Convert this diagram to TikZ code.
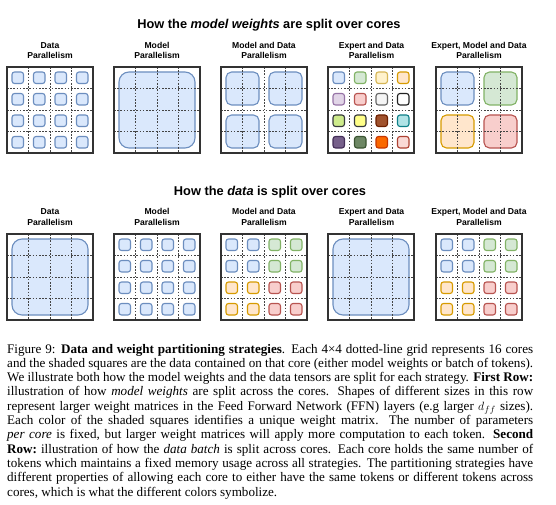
\documentclass[tikz,border=0pt]{standalone}
\usepackage{fontspec}
\setmainfont{Liberation Serif}
\newfontfamily\lsans{Liberation Sans}
\definecolor{bF}{HTML}{DAE8FC}\definecolor{bD}{HTML}{6C8EBF}
\definecolor{gF}{HTML}{D5E8D4}\definecolor{gD}{HTML}{82B366}
\definecolor{yF}{HTML}{FFF2CC}\definecolor{yD}{HTML}{D6B656}
\definecolor{oF}{HTML}{FFE6CC}\definecolor{oD}{HTML}{D79B00}
\definecolor{pF}{HTML}{E1D5E7}\definecolor{pD}{HTML}{9673A6}
\definecolor{rF}{HTML}{F8CECC}\definecolor{rD}{HTML}{B85450}
\definecolor{eF}{HTML}{F5F5F5}\definecolor{eD}{HTML}{666666}
\definecolor{wF}{HTML}{FFFFFF}\definecolor{wD}{HTML}{222222}
\definecolor{lF}{HTML}{CDEB8B}\definecolor{lD}{HTML}{36393D}
\definecolor{kF}{HTML}{FFFF88}\definecolor{kD}{HTML}{36393D}
\definecolor{nF}{HTML}{A0522D}\definecolor{nD}{HTML}{6D1F00}
\definecolor{tF}{HTML}{B0E3E6}\definecolor{tD}{HTML}{0E8088}
\definecolor{vF}{HTML}{76608A}\definecolor{vD}{HTML}{432D57}
\definecolor{dF}{HTML}{6D8764}\definecolor{dD}{HTML}{3A5431}
\definecolor{fF}{HTML}{FA6800}\definecolor{fD}{HTML}{C73500}
\definecolor{sF}{HTML}{FAD9D5}\definecolor{sD}{HTML}{AE4132}
\definecolor{gridc}{HTML}{444444}
\definecolor{framec}{HTML}{333333}
\tikzset{
  bl/.style={fill=bF,draw=bD}, gr/.style={fill=gF,draw=gD},
  ye/.style={fill=yF,draw=yD}, or/.style={fill=oF,draw=oD},
  pu/.style={fill=pF,draw=pD}, re/.style={fill=rF,draw=rD},
  ey/.style={fill=eF,draw=eD}, wh/.style={fill=wF,draw=wD},
  li/.style={fill=lF,draw=lD}, ky/.style={fill=kF,draw=kD},
  br/.style={fill=nF,draw=nD}, te/.style={fill=tF,draw=tD},
  vi/.style={fill=vF,draw=vD}, dg/.style={fill=dF,draw=dD},
  fo/.style={fill=fF,draw=fD}, sa/.style={fill=sF,draw=sD},
  gridline/.style={draw=gridc,line width=0.7pt,dash pattern=on 1.6pt off 1.6pt},
  gridframe/.style={draw=framec,line width=1.2pt},
  blkline/.style={line width=1.1pt},
  title/.style={font=\lsans\bfseries\fontsize{12.8}{15}\selectfont,anchor=base,inner sep=0pt},
  plabel/.style={font=\lsans\bfseries\fontsize{8.6}{10.6}\selectfont,align=center,inner sep=0pt},
  capline/.style={anchor=base west,inner sep=0pt,font=\fontsize{13.1}{14.3}\selectfont}
}
% block: gx, gy, col, row, span, style
\newcommand\myblk[6]{%
  \pgfmathsetmacro\myrad{ifthenelse(#5==1,2.5,ifthenelse(#5==2,5.5,10))}%
  \draw[blkline,#6,rounded corners=\myrad pt] ({#1+21.5*#3+5},{#2+21.5*#4+5}) rectangle ({#1+21.5*(#3+#5)-5},{#2+21.5*(#4+#5)-5});%
}
\newcommand\mygrid[2]{%
  \foreach \kk in {1,2,3}{%
    \draw[gridline] ({#1+21.5*\kk},#2) -- ({#1+21.5*\kk},{#2+86});%
    \draw[gridline] (#1,{#2+21.5*\kk}) -- ({#1+86},{#2+21.5*\kk});%
  }%
  \draw[gridframe] (#1,#2) rectangle ({#1+86},{#2+86});%
}
\newcommand\myquad[2]{%
  \foreach \cc/\rr/\ss in {0/0/bl,1/0/bl,0/1/bl,1/1/bl,2/0/gr,3/0/gr,2/1/gr,3/1/gr,0/2/or,1/2/or,0/3/or,1/3/or,2/2/re,3/2/re,2/3/re,3/3/re}{\myblk{#1}{#2}{\cc}{\rr}{1}{\ss}}%
}
\begin{document}
\begin{tikzpicture}[x=1pt,y=-1pt]
\useasboundingbox[fill=white] (0,0) rectangle (556,505);
% titles
\node[title] (t1) at (269,28.3) {How the \textit{model weights} are split over cores};
\node[title] (t2) at (270,195) {How the \textit{data} is split over cores};
% row 1 labels
\node[plabel] (a1) at (50,50.5) {Data\\Parallelism};
\node[plabel] (a2) at (157,50.5) {Model\\Parallelism};
\node[plabel] (a3) at (264,50.5) {Model and Data\\Parallelism};
\node[plabel] (a4) at (371.5,50.5) {Expert and Data\\Parallelism};
\node[plabel] (a5) at (479,50.5) {Expert, Model and Data\\Parallelism};
% row 2 labels
\node[plabel] (b1) at (50,217) {Data\\Parallelism};
\node[plabel] (b2) at (157,217) {Model\\Parallelism};
\node[plabel] (b3) at (264,217) {Model and Data\\Parallelism};
\node[plabel] (b4) at (371.5,217) {Expert and Data\\Parallelism};
\node[plabel] (b5) at (479,217) {Expert, Model and Data\\Parallelism};
% ---- row 1 ----
\foreach \cc in {0,...,3}{\foreach \rr in {0,...,3}{\myblk{7}{67}{\cc}{\rr}{1}{bl}}}
\mygrid{7}{67}
\myblk{114}{67}{0}{0}{4}{bl}
\mygrid{114}{67}
\foreach \cc/\rr in {0/0,2/0,0/2,2/2}{\myblk{221}{67}{\cc}{\rr}{2}{bl}}
\mygrid{221}{67}
\foreach \cc/\rr/\ss in {0/0/bl,1/0/gr,2/0/ye,3/0/or,0/1/pu,1/1/re,2/1/ey,3/1/wh,0/2/li,1/2/ky,2/2/br,3/2/te,0/3/vi,1/3/dg,2/3/fo,3/3/sa}{\myblk{328}{67}{\cc}{\rr}{1}{\ss}}
\mygrid{328}{67}
\foreach \cc/\rr/\ss in {0/0/bl,2/0/gr,0/2/or,2/2/re}{\myblk{436}{67}{\cc}{\rr}{2}{\ss}}
\mygrid{436}{67}
% ---- row 2 ----
\myblk{7}{234}{0}{0}{4}{bl}
\mygrid{7}{234}
\foreach \cc in {0,...,3}{\foreach \rr in {0,...,3}{\myblk{114}{234}{\cc}{\rr}{1}{bl}}}
\mygrid{114}{234}
\myquad{221}{234}
\mygrid{221}{234}
\myblk{328}{234}{0}{0}{4}{bl}
\mygrid{328}{234}
\myquad{436}{234}
\mygrid{436}{234}
% ---- caption ----
\node[capline] (c1) at (7,353) {\makebox[526pt][s]{Figure 9: \textbf{Data and weight partitioning strategies}. Each 4×4 dotted-line grid represents 16 cores}};
\node[capline] (c2) at (7,367.3) {\makebox[526pt][s]{and the shaded squares are the data contained on that core (either model weights or batch of tokens).}};
\node[capline] (c3) at (7,381.6) {\makebox[526pt][s]{We illustrate both how the model weights and the data tensors are split for each strategy. \textbf{First Row:}}};
\node[capline] (c4) at (7,395.9) {\makebox[526pt][s]{illustration of how \textit{model weights} are split across the cores. Shapes of different sizes in this row}};
\node[capline] (c5) at (7,410.2) {\makebox[526pt][s]{represent larger weight matrices in the Feed Forward Network (FFN) layers (e.g larger $d_{ff}$ sizes).}};
\node[capline] (c6) at (7,424.5) {\makebox[526pt][s]{Each color of the shaded squares identifies a unique weight matrix. The number of parameters}};
\node[capline] (c7) at (7,438.8) {\makebox[526pt][s]{\textit{per core} is fixed, but larger weight matrices will apply more computation to each token. \textbf{Second}}};
\node[capline] (c8) at (7,453.1) {\makebox[526pt][s]{\textbf{Row:}\ illustration of how the \textit{data batch} is split across cores. Each core holds the same number of}};
\node[capline] (c9) at (7,467.4) {\makebox[526pt][s]{tokens which maintains a fixed memory usage across all strategies. The partitioning strategies have}};
\node[capline] (c10) at (7,481.7) {\makebox[526pt][s]{different properties of allowing each core to either have the same tokens or different tokens across}};
\node[capline] (c11) at (7,496) {cores, which is what the different colors symbolize.};
\end{tikzpicture}
\end{document}
